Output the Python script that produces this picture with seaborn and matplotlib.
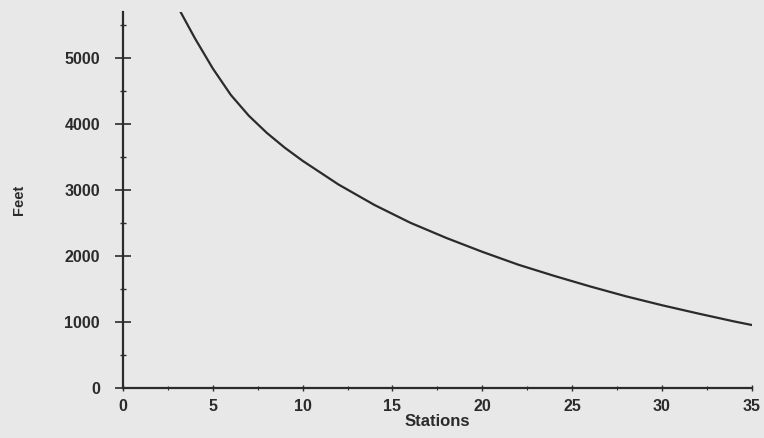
import matplotlib
matplotlib.use("Agg")
import matplotlib.pyplot as plt
import seaborn as sns
import pandas as pd
from matplotlib.ticker import MultipleLocator

# values
stations = [3.2, 4, 5, 6, 7, 8, 9, 10, 12, 14, 16, 18, 20, 22, 24, 26, 28, 30, 32, 34, 35]
feet = [5700, 5300, 4840, 4440, 4125, 3865, 3640, 3440, 3080, 2770, 2500, 2270,
        2060, 1865, 1695, 1535, 1385, 1250, 1125, 1005, 950]

x_ticks = [0, 5, 10, 15, 20, 25, 30, 35]
y_ticks = [0, 1000, 2000, 3000, 4000, 5000]

df = pd.DataFrame({"Stations": stations, "Feet": feet})

sns.set_style("ticks")
plt.rcParams["font.family"] = ["Liberation Sans", "DejaVu Sans"]

bg = "#e8e8e8"
ink = "#2b2b2b"

fig = plt.figure(figsize=(7.64, 4.38), dpi=100, facecolor=bg)
ax = fig.add_axes([0.161, 0.115, 0.823, 0.858])
ax.set_facecolor(bg)

sns.lineplot(data=df, x="Stations", y="Feet", ax=ax, color=ink, linewidth=1.6)

ax.set_xlim(0, 35)
ax.set_ylim(0, 5700)
ax.set_xticks(x_ticks)
ax.set_yticks(y_ticks)
ax.yaxis.set_minor_locator(MultipleLocator(500))
ax.xaxis.set_minor_locator(MultipleLocator(2.5))

sns.despine(ax=ax)
for side in ("left", "bottom"):
    ax.spines[side].set_color(ink)
    ax.spines[side].set_linewidth(1.6)

ax.tick_params(axis="y", which="major", direction="inout", length=11, width=1.2,
               color=ink, pad=11, labelsize=11.5, labelcolor=ink)
ax.tick_params(axis="y", which="minor", direction="inout", length=5, width=1.0, color=ink)
ax.tick_params(axis="x", which="major", direction="inout", length=4, width=1.0,
               color=ink, pad=6, labelsize=11.5, labelcolor=ink)
ax.tick_params(axis="x", which="minor", direction="inout", length=3, width=0.8, color=ink)
for lab in ax.get_xticklabels() + ax.get_yticklabels():
    lab.set_fontweight("bold")

ax.set_xlabel("Stations", fontsize=12, fontweight="bold", color=ink, labelpad=0)
ax.set_ylabel("Feet", fontsize=10.5, fontweight="bold", color=ink, labelpad=28)

fig.savefig("out.png", dpi=100, facecolor=bg)
